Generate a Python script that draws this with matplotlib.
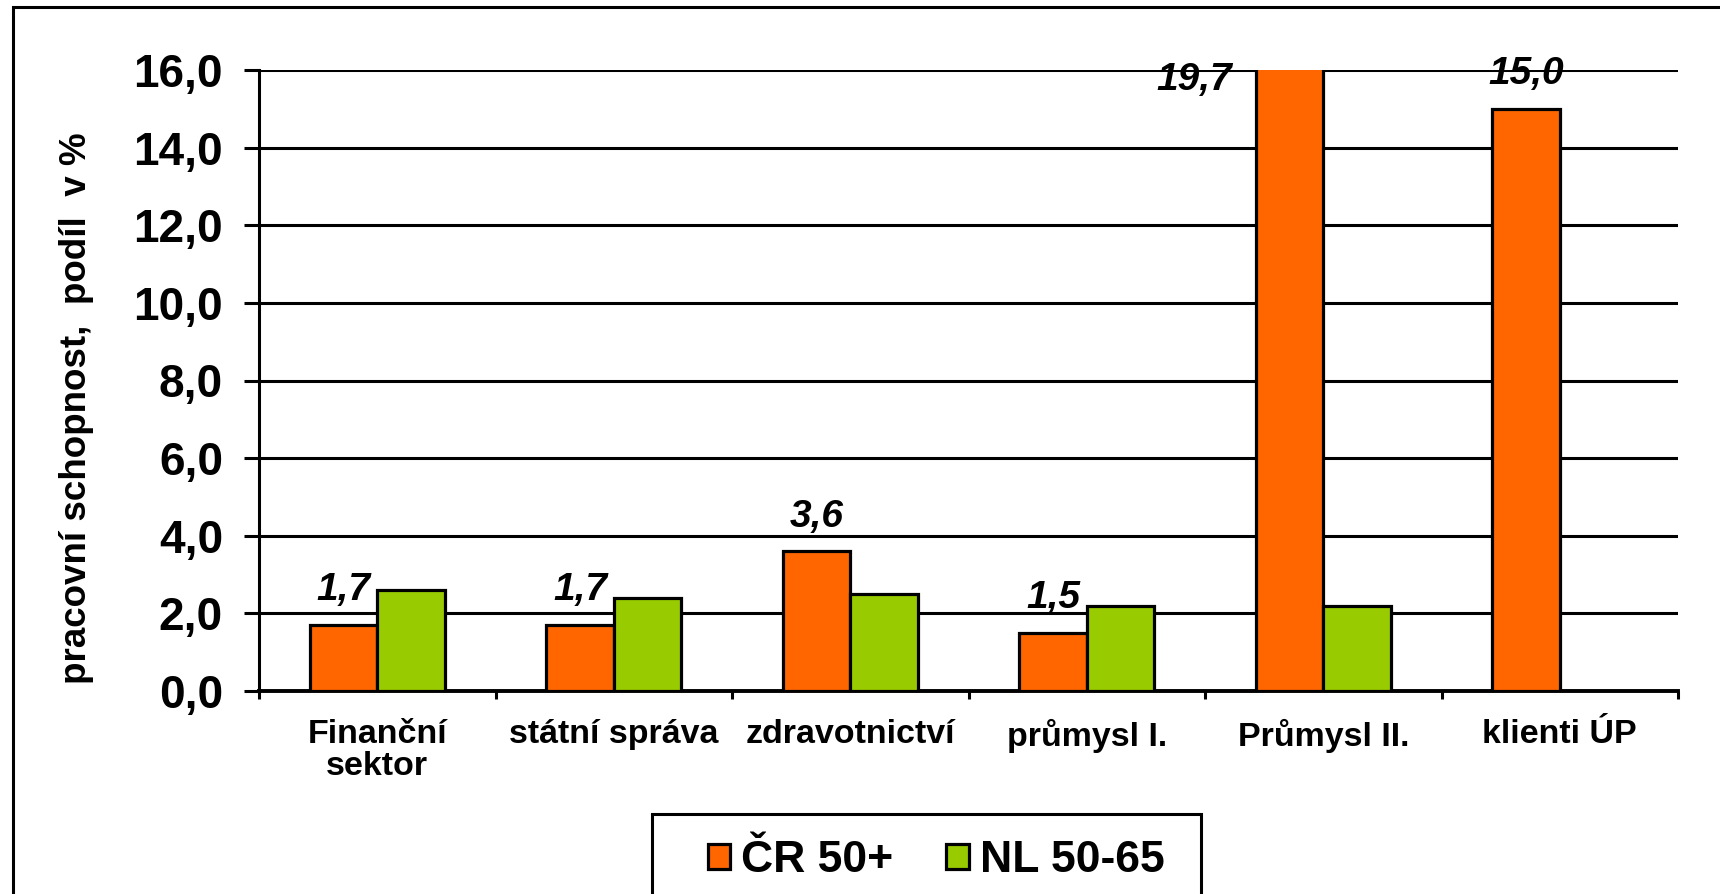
import matplotlib
matplotlib.use("Agg")
import matplotlib.pyplot as plt
from matplotlib import font_manager
from matplotlib.ticker import FuncFormatter, FixedLocator
from matplotlib.patches import Rectangle
import numpy as np

categories = ["Finanční\nsektor", "státní správa", "zdravotnictví", "průmysl I.", "Průmysl II.", "klienti ÚP"]
cr_values = [1.7, 1.7, 3.6, 1.5, 19.7, 15.0]
nl_values = [2.6, 2.4, 2.5, 2.2, 2.2, np.nan]
series_names = ["ČR 50+", "NL 50-65"]
y_ticks = [0, 2, 4, 6, 8, 10, 12, 14, 16]
y_label = "pracovní schopnost,  podíl  v %"

names = {f.name for f in font_manager.fontManager.ttflist}
BASE = "Liberation Sans" if "Liberation Sans" in names else "DejaVu Sans"
NARROW = "Liberation Sans Narrow" if "Liberation Sans Narrow" in names else None
plt.rcParams["font.family"] = [BASE, "DejaVu Sans"]
plt.rcParams["font.weight"] = "bold"

ORANGE = "#FF6600"
GREEN = "#99CC00"

fig = plt.figure(figsize=(17.2, 8.94), dpi=100)
W, H = 1720, 894
ax = fig.add_axes([259 / W, 1 - 691 / H, (1678 - 259) / W, (691 - 70) / H])

x = np.arange(len(categories))
bw = 0.285
bars_cr = ax.bar(x - bw / 2, cr_values, bw, color=ORANGE, edgecolor="black", linewidth=2.3,
                 label=series_names[0], zorder=3)
bars_nl = ax.bar(x + bw / 2, nl_values, bw, color=GREEN, edgecolor="black", linewidth=2.3,
                 label=series_names[1], zorder=3)

ax.set_xlim(-0.5, len(categories) - 0.5)
ax.set_ylim(0, 16)
ax.yaxis.set_major_locator(FixedLocator(y_ticks))
ax.yaxis.set_major_formatter(FuncFormatter(lambda v, p: f"{v:.1f}".replace(".", ",")))
ax.grid(axis="y", color="black", linewidth=2.2, zorder=0)
ax.set_axisbelow(True)

for s in ["top", "right"]:
    ax.spines[s].set_visible(False)
ax.spines["left"].set_linewidth(2.2)
ax.spines["bottom"].set_linewidth(2.8)

ax.tick_params(axis="y", length=11, width=2.2, pad=15, labelsize=33)
for lab in ax.get_yticklabels():
    lab.set_fontweight("bold")

# x ticks at category boundaries, labels at centers
ax.set_xticks(np.arange(-0.5, len(categories), 1.0))
ax.set_xticklabels([])
ax.tick_params(axis="x", length=6, width=2.2)
xfam = [NARROW, BASE] if NARROW else [BASE]
xsize = 29 if NARROW else 24.5
ax.set_xticks(x, minor=True)
ax.set_xticklabels(categories, minor=True, fontsize=xsize, fontweight="bold",
                   family=xfam, linespacing=1.05)
ax.tick_params(axis="x", which="minor", length=0, pad=20)

ax.set_ylabel(y_label, fontsize=26.5, fontweight="bold")
ax.yaxis.set_label_coords(-0.116, 0.455)

# data labels for ČR series
for i, (b, v) in enumerate(zip(bars_cr, cr_values)):
    txt = f"{v:.1f}".replace(".", ",")
    cx = b.get_x() + b.get_width() / 2
    if v > 16:
        ax.text(b.get_x() - 0.1, 15.75, txt, ha="right", va="center", fontsize=28,
                fontweight="bold", style="italic", clip_on=False, zorder=5)
    else:
        ax.annotate(txt, (cx, v), xytext=(0, 25), textcoords="offset points",
                    ha="center", va="center", fontsize=28, fontweight="bold",
                    style="italic", annotation_clip=False, zorder=5)

# legend
leg = ax.legend(handles=[bars_cr, bars_nl], loc="center", frameon=False,
                bbox_to_anchor=(936 / W, 1 - 861 / H), bbox_transform=fig.transFigure,
                ncol=2, fontsize=32, handlelength=0.5, handleheight=0.5,
                handletextpad=0.25, columnspacing=1.2, borderpad=0)
for t in leg.get_texts():
    t.set_fontweight("bold")

fig.patches.append(Rectangle((652 / W, -0.05), (1201 - 652) / W, 0.05 + 1 - 814 / H,
                             transform=fig.transFigure, fill=False, edgecolor="black",
                             linewidth=2.2))
fig.patches.append(Rectangle((13 / W, -0.05), 1.1, 1.05 - 7 / H,
                             transform=fig.transFigure, fill=False, edgecolor="black",
                             linewidth=2.2))

fig.savefig("out.png", dpi=100)
